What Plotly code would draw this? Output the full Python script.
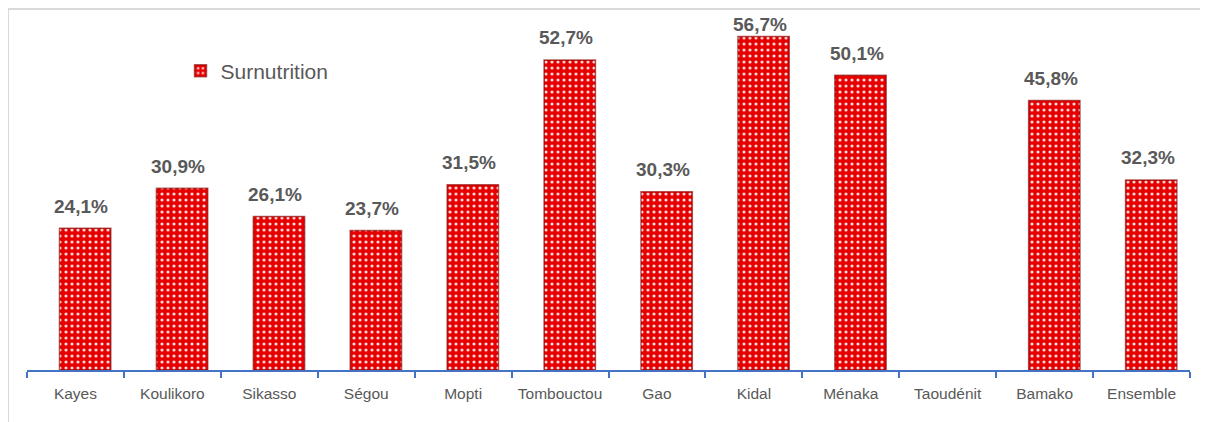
import plotly.graph_objects as go

categories = ["Kayes", "Koulikoro", "Sikasso", "Ségou", "Mopti", "Tombouctou",
              "Gao", "Kidal", "Ménaka", "Taoudénit", "Bamako", "Ensemble"]
surnutrition = [24.1, 30.9, 26.1, 23.7, 31.5, 52.7, 30.3, 56.7, 50.1, None, 45.8, 32.3]
series_name = "Surnutrition"

RED = "#E60000"
GRAY_TXT = "#595959"
BLUE = "#4472C4"
Y_MAX = 60

fig = go.Figure()
fig.add_trace(go.Bar(
    x=categories, y=surnutrition, name=series_name,
    width=0.53, offset=-0.165,
    marker=dict(color=RED,
                line=dict(color="rgba(130,0,0,0.6)", width=1.5),
                pattern=dict(shape=".", fgcolor="white", bgcolor=RED,
                             size=6, solidity=0.22, fgopacity=0.85)),
    showlegend=True,
    hoverinfo="skip",
))

for c, v in zip(categories, surnutrition):
    if v is None:
        continue
    ylab = min(v + 3.75, Y_MAX - 1.3)
    fig.add_annotation(
        x=c, y=ylab, xref="x", yref="y", xshift=6,
        text=f"{v:.1f}%".replace(".", ","), showarrow=False,
        font=dict(family="Liberation Sans, Arial", size=19, color=GRAY_TXT, weight="bold"),
        xanchor="center", yanchor="middle",
    )

# chart frame (top and left visible)
fig.add_shape(type="line", xref="paper", yref="paper",
              x0=-19/1163, x1=1.03, y0=1 + 8/353, y1=1 + 8/353,
              line=dict(color="#D9D9D9", width=2))
fig.add_shape(type="line", xref="paper", yref="paper",
              x0=-19/1163, x1=-19/1163, y0=1 + 8/353, y1=-0.2,
              line=dict(color="#D9D9D9", width=2))

fig.update_layout(
    width=1200, height=414,
    margin=dict(l=19, r=18, t=9, b=52, autoexpand=False),
    paper_bgcolor="white", plot_bgcolor="white",
    bargap=0.47,
    legend=dict(x=0.132, y=0.847, xanchor="left", yanchor="middle",
                font=dict(family="Liberation Sans, Arial", size=21, color=GRAY_TXT),
                bgcolor="rgba(0,0,0,0)", itemwidth=30),
    xaxis=dict(
        type="category", showgrid=False, zeroline=False, automargin=False,
        showline=True, linecolor=BLUE, linewidth=2, tickangle=0,
        ticks="outside", tickson="boundaries", ticklen=6, tickwidth=2, tickcolor=BLUE,
        ticklabelstandoff=8,
        tickfont=dict(family="Liberation Sans, Arial", size=15.5, color=GRAY_TXT),
    ),
    yaxis=dict(range=[0, Y_MAX], visible=False, showgrid=False, zeroline=False),
)

fig.write_html("out.html")
